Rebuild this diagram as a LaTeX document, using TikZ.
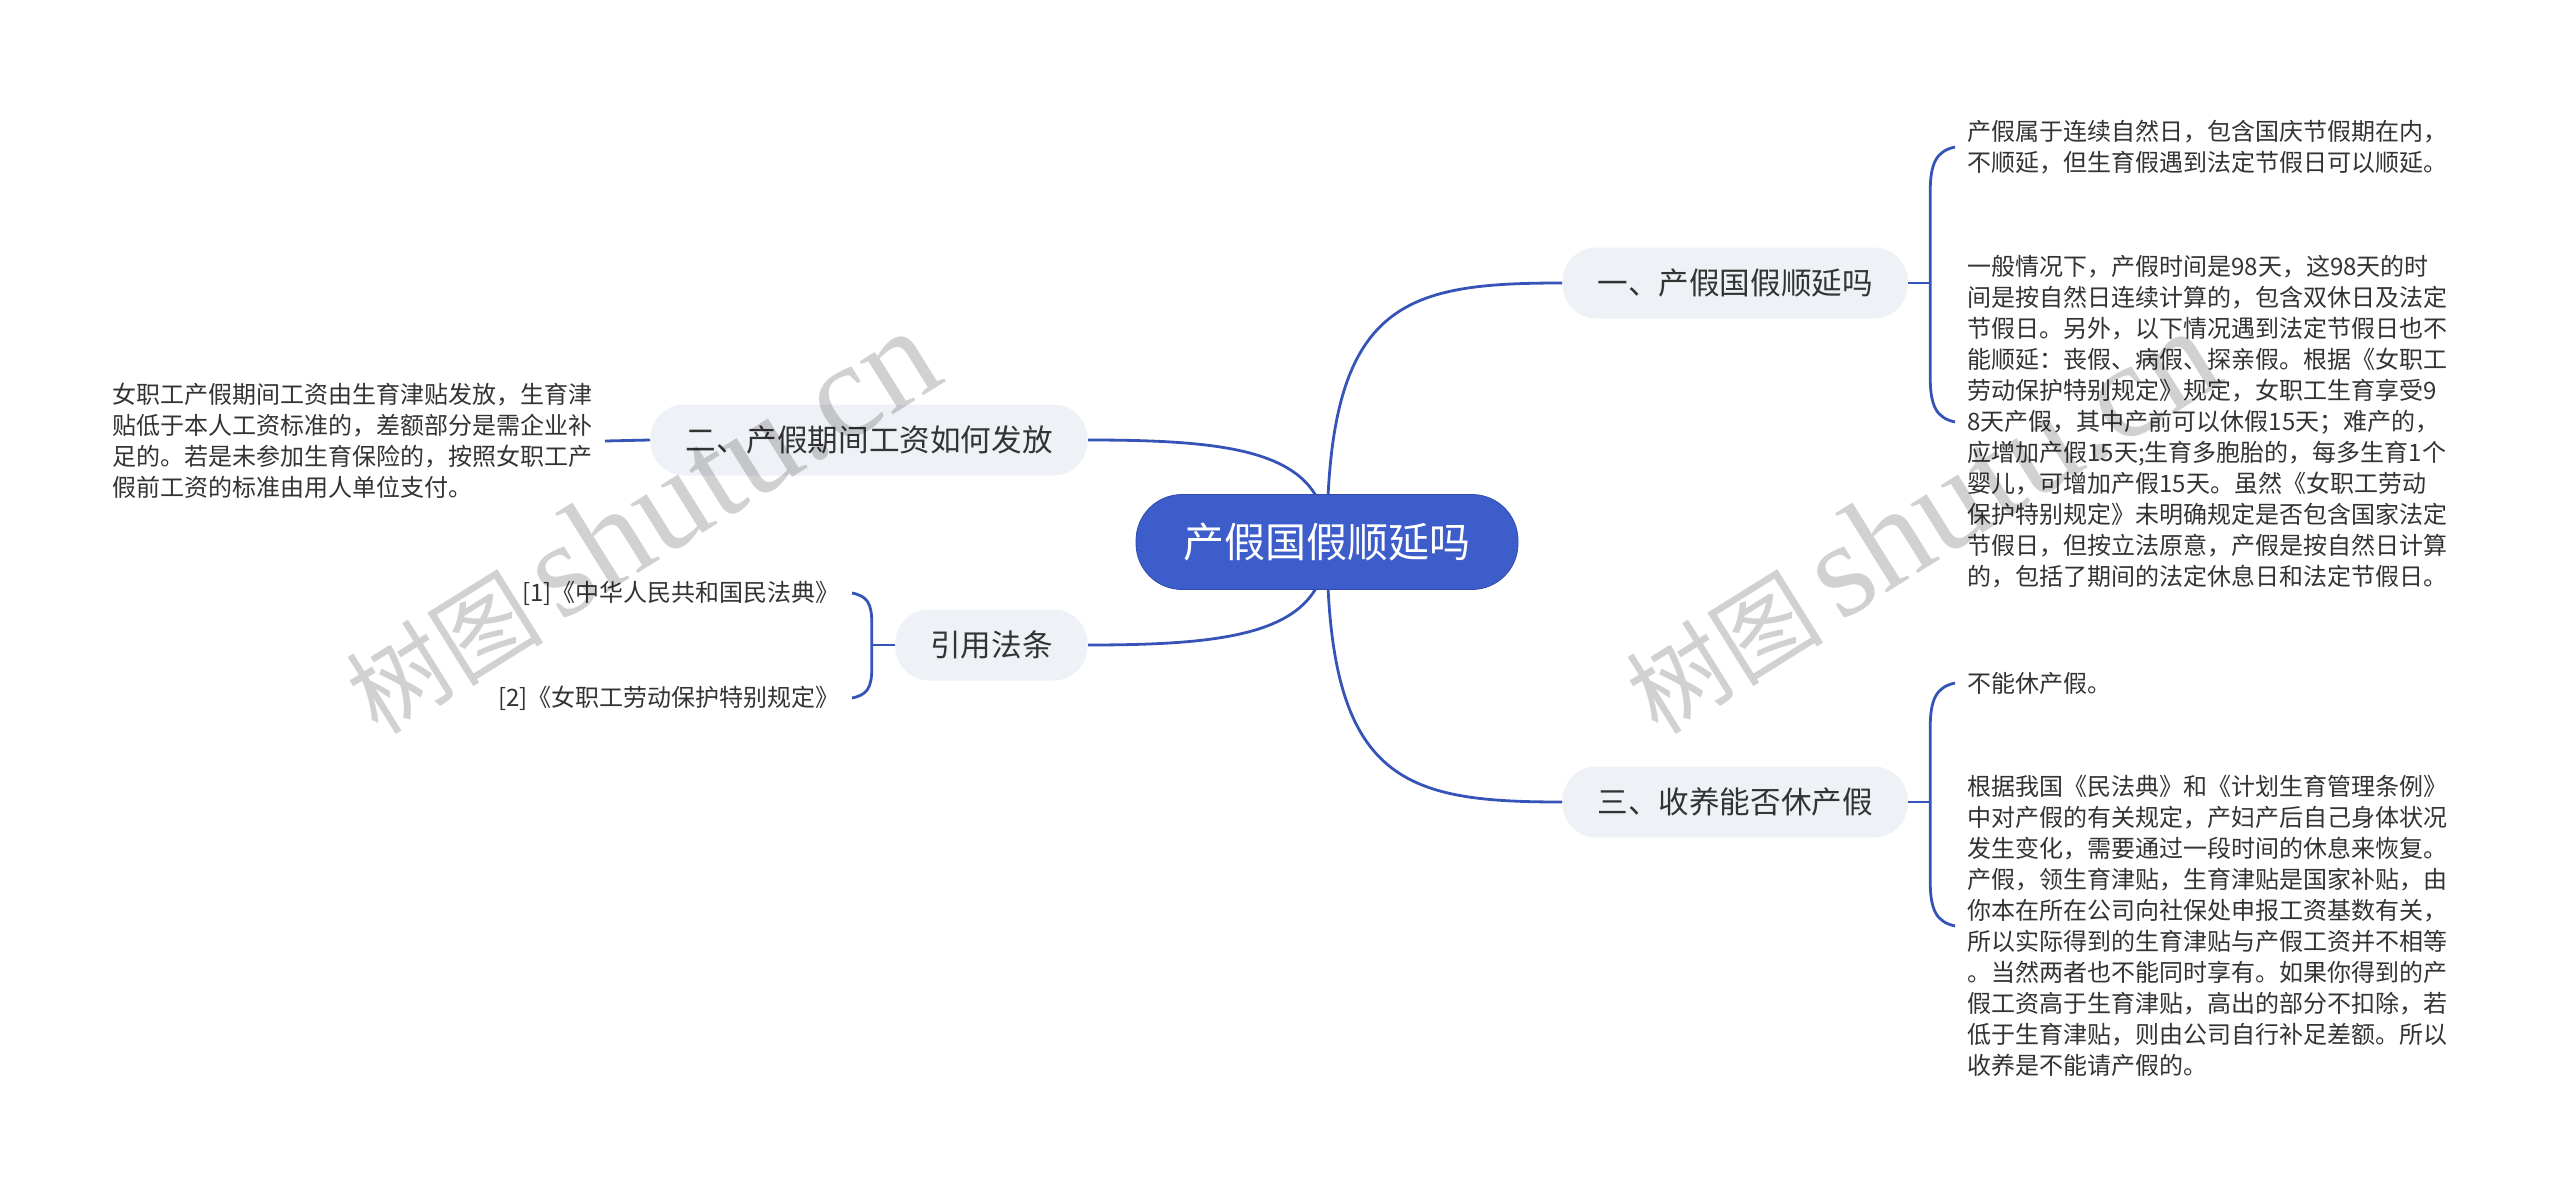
\documentclass[tikz,border=0pt]{standalone}
\usepackage{fontspec}
\setmainfont{Noto Sans CJK SC}
\newfontfamily\wmlatin{Liberation Serif}
\usepackage{tikz}
\usetikzlibrary{calc}
\definecolor{rootblue}{HTML}{3D5DCB}
\definecolor{rootedge}{HTML}{2F4BAF}
\definecolor{softgrey}{HTML}{EEF1F5}
\definecolor{linkblue}{HTML}{3654B8}
\definecolor{inkgrey}{HTML}{333333}

\begin{document}
\begin{tikzpicture}[
  x=0.5pt,y=-0.5pt,
  rootnode/.style={draw=rootedge,fill=rootblue,text=white,rounded corners=23pt,minimum width=191pt,minimum height=47.5pt,font=\fontsize{20.5pt}{24pt}\selectfont},
  topic/.style={fill=softgrey,text=inkgrey,rounded corners=17pt,minimum height=35.5pt,inner xsep=17.5pt,font=\fontsize{15.3pt}{18pt}\selectfont},
  leaf/.style={align=left,text=inkgrey,inner xsep=6pt,inner ysep=0pt,font=\fontsize{12pt}{15.5pt}\selectfont},
  conn/.style={draw=linkblue,line width=1.4pt},
  wmark/.style={text=black,text opacity=0.18,rotate=32,font=\fontsize{49.5pt}{55pt}\selectfont}
]
\useasboundingbox (0,0) rectangle (2560,1193);

\node[topic,anchor=west] (q1) at (1562,283) {一、产假国假顺延吗};
\node[topic,anchor=west] (q3) at (1562,802) {三、收养能否休产假};
\node[topic,anchor=east] (q2) at (1088,440) {二、产假期间工资如何发放};
\node[topic,anchor=east] (refs) at (1088,645) {引用法条};

\node[leaf,anchor=west] (q1a) at (1955,147) {产假属于连续自然日，包含国庆节假期在内，\\不顺延，但生育假遇到法定节假日可以顺延。};
\node[leaf,anchor=west] (q1b) at (1955,422) {一般情况下，产假时间是98天，这98天的时\\间是按自然日连续计算的，包含双休日及法定\\节假日。另外，以下情况遇到法定节假日也不\\能顺延：丧假、病假、探亲假。根据《女职工\\劳动保护特别规定》规定，女职工生育享受9\\8天产假，其中产前可以休假15天；难产的，\\应增加产假15天;生育多胞胎的，每多生育1个\\婴儿，可增加产假15天。虽然《女职工劳动\\保护特别规定》未明确规定是否包含国家法定\\节假日，但按立法原意，产假是按自然日计算\\的，包括了期间的法定休息日和法定节假日。};
\node[leaf,anchor=west] (q3a) at (1955,683) {不能休产假。};
\node[leaf,anchor=west] (q3b) at (1955,926) {根据我国《民法典》和《计划生育管理条例》\\中对产假的有关规定，产妇产后自己身体状况\\发生变化，需要通过一段时间的休息来恢复。\\产假，领生育津贴，生育津贴是国家补贴，由\\你本在所在公司向社保处申报工资基数有关，\\所以实际得到的生育津贴与产假工资并不相等\\。当然两者也不能同时享有。如果你得到的产\\假工资高于生育津贴，高出的部分不扣除，若\\低于生育津贴，则由公司自行补足差额。所以\\收养是不能请产假的。};
\node[leaf,anchor=east] (q2a) at (605,441) {女职工产假期间工资由生育津贴发放，生育津\\贴低于本人工资标准的，差额部分是需企业补\\足的。若是未参加生育保险的，按照女职工产\\假前工资的标准由用人单位支付。};
\node[leaf,anchor=east] (ref1) at (852,593) {[1]《中华人民共和国民法典》};
\node[leaf,anchor=east] (ref2) at (852,698) {[2]《女职工劳动保护特别规定》};

\coordinate (j1) at ($(q1.east)+(22,0)$);
\coordinate (j3) at ($(q3.east)+(22,0)$);
\coordinate (j4) at ($(refs.west)+(-23,0)$);
\draw[conn] (q1.east) -- (j1);
\draw[conn] (q1a.west) .. controls +(-18,4) and +(0,-30) .. ($(j1|-q1a.west)+(0,45)$) -- ($(j1|-q1b.west)+(0,-45)$) .. controls +(0,30) and +(-18,-4) .. (q1b.west);
\draw[conn] (q3.east) -- (j3);
\draw[conn] (q3a.west) .. controls +(-18,4) and +(0,-30) .. ($(j3|-q3a.west)+(0,45)$) -- ($(j3|-q3b.west)+(0,-45)$) .. controls +(0,30) and +(-18,-4) .. (q3b.west);
\draw[conn] (refs.west) -- (j4);
\draw[conn] (ref1.east) .. controls +(15,3) and +(0,-20) .. ($(j4|-ref1.east)+(0,30)$) -- ($(j4|-ref2.east)+(0,-30)$) .. controls +(0,20) and +(15,-3) .. (ref2.east);
\draw[conn] (q2a.east) -- (q2.west);

\coordinate (hub) at (1327,542);
\draw[conn] (hub) .. controls +(0,-240) and +(-160,0) .. (q1.west);
\draw[conn] (hub) .. controls +(0,240) and +(-160,0) .. (q3.west);
\draw[conn] (hub) .. controls +(0,-90) and +(150,0) .. (q2.east);
\draw[conn] (hub) .. controls +(0,90) and +(150,0) .. (refs.east);
\node[rootnode] (main) at (hub) {产假国假顺延吗};

\node[wmark] (wm1) at (640,522) {树图\,{\wmlatin\fontsize{68pt}{68pt}\selectfont shutu.cn}};
\node[wmark] (wm2) at (1920,522) {树图\,{\wmlatin\fontsize{68pt}{68pt}\selectfont shutu.cn}};
\end{tikzpicture}
\end{document}
